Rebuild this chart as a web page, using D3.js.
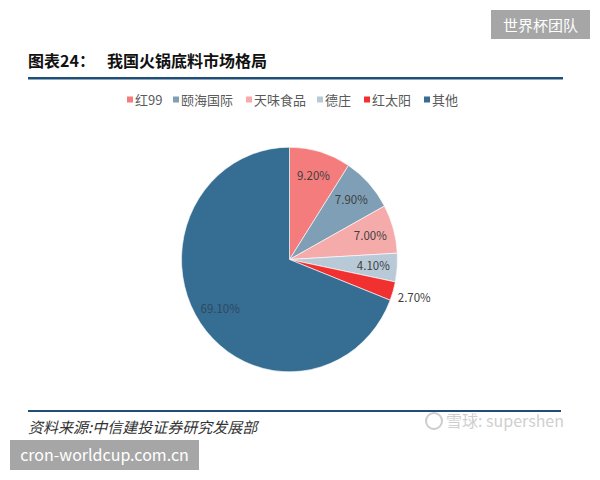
<!DOCTYPE html>
<html>
<head>
<meta charset="utf-8">
<script src="https://cdn.jsdelivr.net/npm/d3@7"></script>
<style>
  body { margin: 0; background: #fff; }
  svg text { font-family: "Noto Sans CJK SC", "Noto Sans", sans-serif; }
</style>
</head>
<body>
<div id="chart"></div>
<script>
const width = 600, height = 480;

// chart data
const brands = ["红99", "颐海国际", "天味食品", "德庄", "红太阳", "其他"];
const shares = [9.2, 7.9, 7.0, 4.1, 2.7, 69.1];
const colors = ["#f47c7c", "#7f9fb6", "#f6abab", "#b8cad8", "#f0312f", "#366d93"];

let svg = d3.select("#chart")
    .append("svg")
    .attr("width", width)
    .attr("height", height);

// watermark top right
svg.append("rect").attr("x", 491).attr("y", 10).attr("width", 99).attr("height", 29).attr("fill", "#a6a6a6");
svg.append("text").attr("x", 540.5).attr("y", 30.5).attr("text-anchor", "middle")
    .attr("fill", "#fff").style("font-size", "15px").text("世界杯团队");

// title
svg.append("text").attr("x", 28).attr("y", 67)
    .style("font-size", "16px").style("font-weight", "bold").attr("fill", "#111")
    .text("图表24：");
svg.append("text").attr("x", 107).attr("y", 67)
    .style("font-size", "16px").style("font-weight", "bold").attr("fill", "#111")
    .text("我国火锅底料市场格局");
svg.append("rect").attr("x", 28).attr("y", 77).attr("width", 535).attr("height", 2.5).attr("fill", "#1f4f78");

// legend
const legendX = [127, 173, 246, 317, 364, 424];
let legend = svg.append("g");
brands.forEach(function(b, i) {
    legend.append("rect").attr("x", legendX[i]).attr("y", 96.5).attr("width", 6).attr("height", 6).attr("fill", colors[i]);
    legend.append("text").attr("x", legendX[i] + 8).attr("y", 104.5)
        .style("font-size", "13px").attr("fill", "#595959").text(b);
});

// pie
const cx = 289.5, cy = 259.5, r = 108;
let pie = d3.pie().sort(null).value(function(d) { return d; });
let arcs = pie(shares);
let arc = d3.arc().innerRadius(0).outerRadius(r);

let g = svg.append("g").attr("transform", `translate(${cx}, ${cy}) scale(1, 1.04)`);
g.selectAll("path")
    .data(arcs)
    .enter()
    .append("path")
    .attr("d", arc)
    .attr("fill", function(d, i) { return colors[i]; })
    .attr("stroke", "#fff")
    .attr("stroke-width", 0.6);

// slice labels
let inner = d3.arc().innerRadius(84).outerRadius(84);
let outer = d3.arc().innerRadius(130).outerRadius(130);
svg.append("g").attr("transform", `translate(${cx}, ${cy}) scale(1, 1.04)`)
    .selectAll("text")
    .data(arcs)
    .enter()
    .append("text")
    .attr("transform", function(d, i) {
        let p = (i === 4 ? outer : inner).centroid(d);
        return `translate(${p[0]}, ${p[1] + 4}) scale(1, ${1 / 1.04})`;
    })
    .attr("text-anchor", "middle")
    .style("font-size", "11.5px")
    .attr("fill", function(d, i) { return i === 5 ? "#2c4a60" : "#404040"; })
    .text(function(d) { return d.data.toFixed(2) + "%"; });

// source
svg.append("rect").attr("x", 28).attr("y", 410).attr("width", 533).attr("height", 2).attr("fill", "#1f4f78");
svg.append("text").attr("x", 28).attr("y", 433)
    .style("font-size", "15px").style("font-style", "italic").attr("fill", "#333")
    .text("资料来源:中信建投证券研究发展部");

// watermarks bottom
svg.append("circle").attr("cx", 434).attr("cy", 421).attr("r", 8).attr("fill", "none").attr("stroke", "#ccc").attr("stroke-width", 2);
svg.append("text").attr("x", 446).attr("y", 427)
    .style("font-size", "16px").attr("fill", "#cfcfcf").text("雪球: supershen");

svg.append("rect").attr("x", 10).attr("y", 440).attr("width", 189).attr("height", 30).attr("fill", "#a6a6a6");
svg.append("text").attr("x", 104.5).attr("y", 461).attr("text-anchor", "middle")
    .attr("fill", "#fff").style("font-size", "16px").text("cron-worldcup.com.cn");
</script>
</body>
</html>
